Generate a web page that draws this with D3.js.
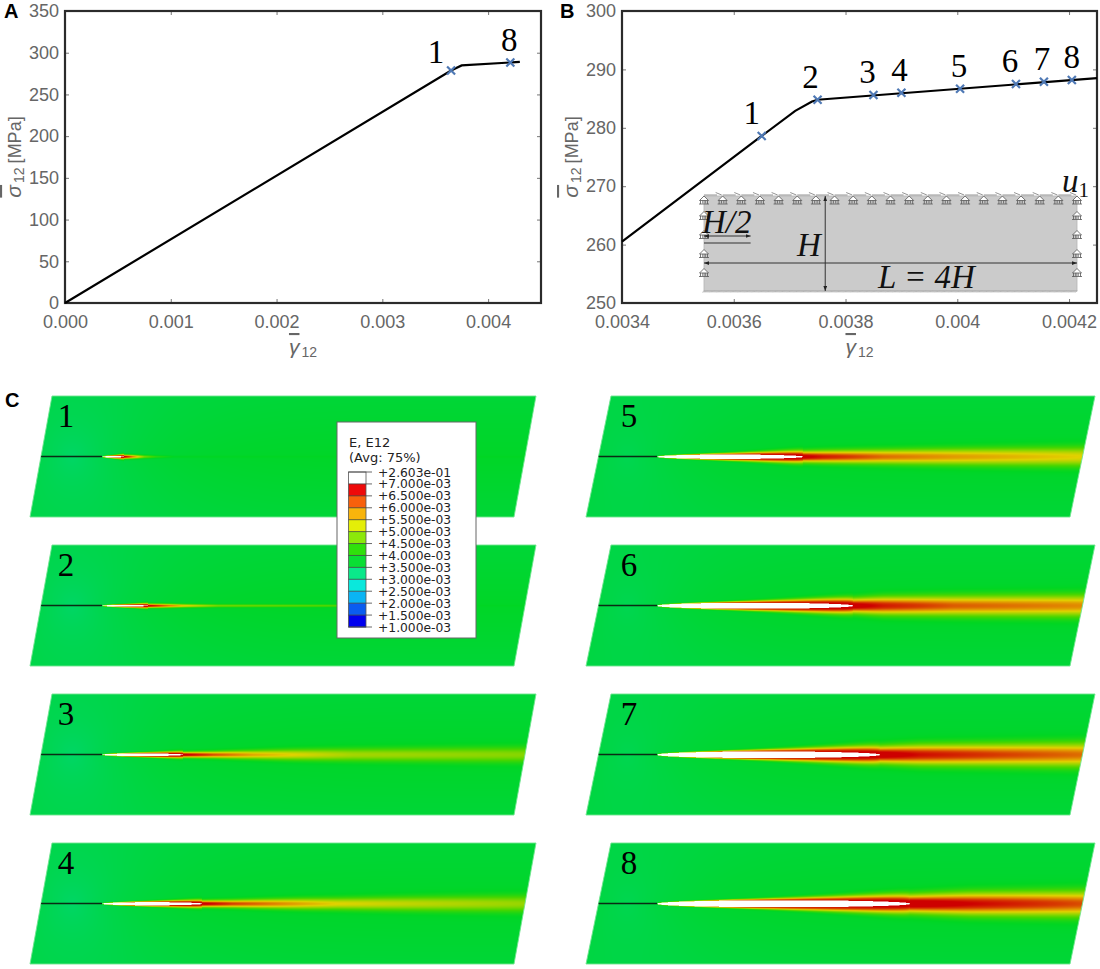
<!DOCTYPE html>
<html lang="en">
<head>
  <meta charset="UTF-8" />
  <title>Shear stress-strain response and E12 fields</title>
  <script src="https://d3js.org/d3.v7.min.js"></script>
  <style>
    body { margin: 0; background: white; }
    svg { display: block; }
    .axis text { font-family: "Liberation Sans", sans-serif; font-size: 18px; fill: #666; }
    .axis path { display: none; }
    .axis line { stroke: #777; stroke-width: 1px; }
    .frame { fill: none; stroke: #2b2b2b; stroke-width: 2.2px; }
    .curve { fill: none; stroke: #000; stroke-width: 2.2px; }
    .cross { stroke: #4f79b5; stroke-width: 2.2px; fill: none; }
    .state { font-family: "Liberation Serif", serif; font-size: 33px; fill: #000; text-anchor: middle; }
    .panel-tag { font-family: "Liberation Sans", sans-serif; font-weight: bold; font-size: 20px; fill: #000; }
    .axis-label { font-family: "Liberation Sans", sans-serif; font-size: 18px; fill: #666; }
    .inset-text { font-family: "Liberation Serif", serif; font-style: italic; font-size: 33px; fill: #111; }
    .legend-text { font-family: "DejaVu Sans", sans-serif; font-size: 12.3px; fill: #222; }
    .legend-head { font-family: "DejaVu Sans", sans-serif; font-size: 13px; fill: #222; }
  </style>
</head>
<body>
  <svg id="chart" width="1100" height="969"></svg>

  <script>
    // overall curve (panel A)
    const curveX = [0, 0.00365, 0.00375, 0.0043];
    const curveY = [0, 278.6, 284.8, 289];
    const ticksAX = [0, 0.001, 0.002, 0.003, 0.004];
    const ticksAY = [0, 50, 100, 150, 200, 250, 300, 350];
    const statesA = ["1", "8"];
    const statesAX = [0.00365, 0.00421];
    const statesAY = [278.6, 288.2];

    // zoomed curve (panel B)
    const zoomX = [0.0034, 0.00365, 0.00371, 0.00374, 0.00375, 0.00425];
    const zoomY = [260.5, 278.6, 282.9, 284.5, 284.8, 288.5];
    const ticksBX = [0.0034, 0.0036, 0.0038, 0.004, 0.0042];
    const ticksBY = [250, 260, 270, 280, 290, 300];
    const statesB = ["1", "2", "3", "4", "5", "6", "7", "8"];
    const statesBX = [0.00365, 0.00375, 0.00385, 0.0039, 0.004005, 0.004105, 0.004155, 0.004205];
    const statesBY = [278.6, 284.8, 285.6, 286, 286.7, 287.5, 287.9, 288.2];

    // field panels (panel C): length of the opening past the notch [px], its half height,
    // and strain read along the band ahead of the tip
    const panelIds = ["1", "2", "3", "4", "5", "6", "7", "8"];
    const openLength = [22, 46, 81, 100, 146, 196, 223, 253];
    const openHalf = [0.7, 0.8, 1.3, 1.6, 2.2, 3, 3.3, 3.5];
    const aheadDist = [
      [0, 8, 20, 32, 50],
      [0, 15, 35, 70, 180, 240, 330],
      [0, 30, 70, 110, 170, 344],
      [0, 30, 100, 135, 200, 325],
      [0, 20, 80, 150, 280],
      [0, 30, 100, 230],
      [0, 40, 120, 200],
      [0, 60, 170]
    ];
    const aheadStrain = [
      [0.0072, 0.0062, 0.0048, 0.0043, 0.0040],
      [0.0072, 0.0064, 0.0056, 0.0048, 0.0046, 0.0042, 0.0040],
      [0.0072, 0.0064, 0.0058, 0.0055, 0.0051, 0.0049],
      [0.0072, 0.0065, 0.0058, 0.0055, 0.0053, 0.0050],
      [0.0072, 0.0068, 0.0062, 0.0059, 0.0055],
      [0.0073, 0.0068, 0.0063, 0.0060],
      [0.0074, 0.0069, 0.0065, 0.0062],
      [0.0075, 0.0070, 0.0064]
    ];
    const aheadSpread = [
      [1.8, 1.8, 1.6, 1.4, 1.2],
      [1.8, 1.8, 1.6, 1.4, 1.2, 1.0, 1.0],
      [2.5, 3, 4, 5, 6, 7.5],
      [3, 3.5, 5, 5.5, 6.5, 8],
      [5, 5.5, 6.5, 7.5, 9],
      [6.5, 8, 9, 10],
      [7.5, 9, 10, 11],
      [8, 10, 11.5]
    ];

    // contour legend
    const legendLabels = ["+2.603e-01", "+7.000e-03", "+6.500e-03", "+6.000e-03", "+5.500e-03",
      "+5.000e-03", "+4.500e-03", "+4.000e-03", "+3.500e-03", "+3.000e-03", "+2.500e-03",
      "+2.000e-03", "+1.500e-03", "+1.000e-03"];
    const legendColors = ["#ffffff", "#ee0a0a", "#f8600c", "#f8b40c", "#e4ee08", "#8ce80a", "#30e00c",
      "#0ade34", "#0ae88a", "#0ae8dc", "#0ab4f4", "#0a5cf0", "#0000ee"];
    const strainStops = [0.003, 0.0035, 0.004, 0.0045, 0.005, 0.0055, 0.006, 0.0065, 0.007];
    const strainColors = ["#00d696", "#00d664", "#00d623", "#46d600", "#96d600", "#e1d200", "#e18c00", "#d73c00", "#cd0000"];

    const svg = d3.select("#chart");
    const defs = svg.append("defs");

    function crossPath(s) {
      return `M${-s},${-s}L${s},${s}M${-s},${s}L${s},${-s}`;
    }

    // overline symbol + subscript 12, optional trailing text
    function axisTitle(sel, sym, tail) {
      const t = sel.append("text").attr("class", "axis-label");
      t.append("tspan").attr("font-style", "italic").attr("text-decoration", "overline").attr("font-size", 21).text(sym);
      t.append("tspan").attr("dy", 3).attr("dx", 2).attr("font-size", 14).text("12");
      if (tail) t.append("tspan").attr("dy", -3).attr("dx", 4).text(tail);
      return t;
    }

    function plot(o) {
      const g = svg.append("g");
      const x = d3.scaleLinear().domain(o.xDomain).range([o.left, o.right]);
      const y = d3.scaleLinear().domain(o.yDomain).range([303, 11]);

      g.append("g").attr("class", "axis").attr("transform", "translate(0,303)")
        .call(d3.axisBottom(x).tickValues(o.xTicks).tickSize(-4).tickPadding(12).tickFormat(o.xFormat));
      g.append("g").attr("class", "axis").attr("transform", `translate(${o.left},0)`)
        .call(d3.axisLeft(y).tickValues(o.yTicks).tickSize(-4).tickPadding(6));
      g.append("g").attr("class", "axis").attr("transform", "translate(0,11)")
        .call(d3.axisTop(x).tickValues(o.xTicks).tickSize(-4).tickFormat(""));
      g.append("g").attr("class", "axis").attr("transform", `translate(${o.right},0)`)
        .call(d3.axisRight(y).tickValues(o.yTicks).tickSize(-4).tickFormat(""));
      g.append("rect").attr("class", "frame")
        .attr("x", o.left).attr("y", 11).attr("width", o.right - o.left).attr("height", 292);

      axisTitle(g.append("g").attr("transform", `translate(${o.left - 44},${157}) rotate(-90)`), "σ", "[MPa]")
        .attr("text-anchor", "middle");
      axisTitle(g.append("g").attr("transform", `translate(${(o.left + o.right) / 2},354)`), "γ")
        .attr("text-anchor", "middle");

      g.append("text").attr("class", "panel-tag").attr("x", o.tagX).attr("y", 18).text(o.tag);
      return { g, x, y };
    }

    // panel A
    const a = plot({
      tag: "A", tagX: 4, left: 65, right: 541, xDomain: [0, 0.0045], yDomain: [0, 350],
      xTicks: ticksAX, yTicks: ticksAY, xFormat: d3.format(".3f")
    });
    a.g.append("path").attr("class", "curve")
      .attr("d", d3.line().x((d, i) => a.x(curveX[i])).y((d, i) => a.y(curveY[i]))(curveX));
    a.g.selectAll(".cross").data(statesA).join("path").attr("class", "cross")
      .attr("transform", (d, i) => `translate(${a.x(statesAX[i])},${a.y(statesAY[i])})`)
      .attr("d", crossPath(4));
    const nudgeA = [-15, -1];
    a.g.selectAll(".state").data(statesA).join("text").attr("class", "state")
      .attr("x", (d, i) => a.x(statesAX[i]) + nudgeA[i])
      .attr("y", (d, i) => a.y(statesAY[i]) - (i ? 12 : 8))
      .text(d => d);

    // panel B
    const b = plot({
      tag: "B", tagX: 560, left: 622, right: 1097, xDomain: [0.0034, 0.00425], yDomain: [250, 300],
      xTicks: ticksBX, yTicks: ticksBY, xFormat: d => String(+d.toFixed(4))
    });

    // inset sketch of the specimen sits under the curve
    const inset = b.g.append("g");
    const insetX = d3.scaleLinear().domain([0, 4]).range([704, 1077]);
    const insetY = d3.scaleLinear().domain([0, 1]).range([291, 196]);
    inset.append("rect").attr("x", insetX(0)).attr("y", insetY(1))
      .attr("width", insetX(4) - insetX(0)).attr("height", insetY(0) - insetY(1))
      .attr("fill", "#cbcbcb").attr("stroke", "#b5b5b5").attr("stroke-width", 0.8);
    // bottom hatch
    inset.selectAll(".hatch").data(d3.range(0, 4.001, 0.0125)).join("line")
      .attr("x1", d => insetX(d) - 1.5).attr("x2", d => insetX(d))
      .attr("y1", insetY(0) + 1.5).attr("y2", insetY(0) - 0.5)
      .attr("stroke", "#8a8a8a").attr("stroke-width", 0.5);
    // sliding supports along the top and on both sides
    const roller = "M-5,4L5,4M-4.5,0.5L0,-4L4.5,0.5ZM-3.5,0.5L-3.5,4M3.5,0.5L3.5,4M-1.2,0.5V3.5M1.2,0.5V3.5";
    const topRollers = d3.range(0, 4.001, 0.2).map(d => [insetX(d), insetY(1) + 4]);
    const sideRollers = [0, 4].flatMap(s => [0.2, 0.4, 0.6, 0.8].map(h => [insetX(s), insetY(h) + 0.5]));
    inset.selectAll(".roller").data(topRollers.concat(sideRollers)).join("path")
      .attr("transform", d => `translate(${d[0]},${d[1]})`)
      .attr("d", roller).attr("fill", "white").attr("stroke", "#555").attr("stroke-width", 0.8);
    // loaded edge
    inset.selectAll(".slide").data(d3.range(0, 3.9, 0.2)).join("path")
      .attr("d", d => `M${insetX(d)},${insetY(1) - 1}H${insetX(d + 0.14)}M${insetX(d + 0.125)},${insetY(1) - 3.5}L${insetX(d + 0.19)},${insetY(1) - 1}`)
      .attr("fill", "none").attr("stroke", "#888").attr("stroke-width", 0.9);
    // dimensions
    defs.append("marker").attr("id", "tip").attr("viewBox", "0 0 8 6").attr("refX", 8).attr("refY", 3)
      .attr("markerWidth", 5).attr("markerHeight", 4).attr("orient", "auto-start-reverse")
      .append("path").attr("d", "M0,0L8,3L0,6Z").attr("fill", "#222");
    const dim = (x1, y1, x2, y2, both) => inset.append("line")
      .attr("x1", x1).attr("y1", y1).attr("x2", x2).attr("y2", y2)
      .attr("stroke", "#333").attr("stroke-width", 1)
      .attr("marker-end", "url(#tip)").attr("marker-start", both ? "url(#tip)" : null);
    dim(insetX(1.3), insetY(1), insetX(1.3), insetY(0), true);
    dim(insetX(0), 263, insetX(4), 263, true);
    dim(insetX(0), 236, insetX(0.5), 236, true);
    inset.append("line").attr("x1", insetX(0)).attr("x2", insetX(0.5)).attr("y1", 243).attr("y2", 243)
      .attr("stroke", "#333").attr("stroke-width", 1.2);
    inset.append("text").attr("class", "inset-text").attr("x", 702).attr("y", 233).text("H/2");
    inset.append("text").attr("class", "inset-text").attr("x", 797).attr("y", 256).text("H");
    inset.append("text").attr("class", "inset-text").attr("x", 878).attr("y", 288).text("L = 4H");
    const u1 = inset.append("text").attr("class", "inset-text").attr("x", 1062).attr("y", 192);
    u1.append("tspan").text("u");
    u1.append("tspan").attr("font-style", "normal").attr("font-size", 21).attr("dy", 5).text("1");

    b.g.append("path").attr("class", "curve")
      .attr("d", d3.line().x((d, i) => b.x(zoomX[i])).y((d, i) => b.y(zoomY[i]))(zoomX));
    b.g.selectAll(".cross").data(statesB).join("path").attr("class", "cross")
      .attr("transform", (d, i) => `translate(${b.x(statesBX[i])},${b.y(statesBY[i])})`)
      .attr("d", crossPath(4));
    const nudgeB = [-10, -7, -6, -2, -1, -6, -2, 0];
    b.g.selectAll(".state").data(statesB).join("text").attr("class", "state")
      .attr("x", (d, i) => b.x(statesBX[i]) + nudgeB[i])
      .attr("y", (d, i) => b.y(statesBY[i]) - 12)
      .text(d => d);

    // panel C: strain fields, painted from the readings above
    svg.append("text").attr("class", "panel-tag").attr("x", 5).attr("y", 407).text("C");

    const strainColor = d3.scaleLinear().domain(strainStops).range(strainColors).clamp(true);
    const lutMin = 0.0028, lutMax = 0.0078, lutSize = 1024;
    const lut = d3.range(lutSize).map(i => d3.rgb(strainColor(lutMin + (lutMax - lutMin) * i / (lutSize - 1))));

    const panelW = 510, panelH = 121, superS = 2;
    const rowTop = [396, 545, 694, 843];
    const lensPeak = d3.scaleLinear().domain([0, 0.3, 1]).range([0.0047, 0.0063, 0.0072]);

    function paintField(i, notchX, coolAmount) {
      const W = panelW * superS, H = panelH * superS;
      const canvas = document.createElement("canvas");
      canvas.width = W; canvas.height = H;
      const ctx = canvas.getContext("2d");
      const img = ctx.createImageData(W, H);
      const peak = d3.scaleLinear().domain(aheadDist[i]).range(aheadStrain[i]).clamp(true);
      const spread = d3.scaleLinear().domain(aheadDist[i]).range(aheadSpread[i]).clamp(true);
      const L = openLength[i];
      const cy = 60.5;
      for (let px = 0; px < W; px++) {
        const x = px / superS;
        const t = (x - notchX) / L;
        let half = 0, pk = 0.0039, sg = 1;
        if (t > 0 && t < 1) {
          half = openHalf[i] * Math.pow(Math.sin(Math.PI * t), 0.42);
          pk = lensPeak(t);
          sg = 0.6 + 0.92 * aheadSpread[i][0] * t * t;
        } else if (t >= 1) {
          pk = peak(x - notchX - L);
          sg = spread(x - notchX - L);
        }
        for (let py = 0; py < H; py++) {
          const y = py / superS - cy;
          const ay = Math.abs(y);
          const k = (py * W + px) * 4;
          if (ay < half) {
            img.data[k] = img.data[k + 1] = img.data[k + 2] = 255; img.data[k + 3] = 255;
            continue;
          }
          const dy = ay - half;
          const rx = (x - notchX + 30) / 62, ry = y / 60;
          const base = 0.00397 - 0.00012 * (ay / 60) - coolAmount * Math.exp(-Math.sqrt(rx * rx + ry * ry));
          let v = base;
          if (t > 0) v = base + Math.max(0, pk - base) * Math.exp(-(dy * dy) / (sg * sg));
          const c = lut[Math.max(0, Math.min(lutSize - 1, Math.round((v - lutMin) / (lutMax - lutMin) * (lutSize - 1))))];
          img.data[k] = c.r; img.data[k + 1] = c.g; img.data[k + 2] = c.b; img.data[k + 3] = 255;
        }
      }
      ctx.putImageData(img, 0, 0);
      return canvas.toDataURL();
    }

    panelIds.forEach((id, i) => {
      const col = i < 4 ? 0 : 1;
      const top = rowTop[i % 4];
      const bottomLeft = col ? 586 : 30;
      const shear = 22 + col * 3;
      const width = 484;
      const notchEnd = col ? 657 : 102;
      const notchStart = bottomLeft + shear * (61 / 121);
      const corners = [[bottomLeft + shear, top], [bottomLeft + shear + width, top],
        [bottomLeft + width, top + panelH], [bottomLeft, top + panelH]];
      const pts = corners.map(p => p.join(",")).join(" ");

      defs.append("clipPath").attr("id", `clip${i}`).append("polygon").attr("points", pts);
      const g = svg.append("g");
      g.append("image")
        .attr("x", bottomLeft).attr("y", top).attr("width", panelW).attr("height", panelH)
        .attr("preserveAspectRatio", "none")
        .attr("clip-path", `url(#clip${i})`)
        .attr("href", paintField(i, notchEnd - bottomLeft, i < 4 ? 0.00048 : 0.00032));
      g.append("polygon").attr("points", pts).attr("fill", "none")
        .attr("stroke", "#6fe58f").attr("stroke-width", 0.9);
      g.append("line").attr("x1", notchStart).attr("x2", notchEnd)
        .attr("y1", top + 60.5).attr("y2", top + 60.5)
        .attr("stroke", "#0b2a14").attr("stroke-width", 1.3);
      g.append("text").attr("class", "state")
        .attr("x", col ? 629 : 66).attr("y", top + 31).text(id);
    });

    // contour legend, over panels 1 and 2
    const lg = svg.append("g");
    lg.append("rect").attr("x", 337).attr("y", 422).attr("width", 139).attr("height", 216)
      .attr("fill", "white").attr("stroke", "#666").attr("stroke-width", 1);
    lg.append("text").attr("class", "legend-head").attr("x", 349).attr("y", 447).text("E, E12");
    lg.append("text").attr("class", "legend-head").attr("x", 349).attr("y", 462).text("(Avg: 75%)");
    const legendY = d3.scaleBand().domain(d3.range(legendColors.length)).range([472, 627]);
    lg.selectAll(".cell").data(legendColors).join("rect")
      .attr("x", 348.5).attr("width", 17.5)
      .attr("y", (d, i) => legendY(i)).attr("height", legendY.bandwidth() + 0.3)
      .attr("fill", d => d);
    lg.append("rect").attr("x", 348.5).attr("y", 472).attr("width", 17.5).attr("height", 155)
      .attr("fill", "none").attr("stroke", "#555").attr("stroke-width", 0.8);
    lg.selectAll(".mark").data(legendLabels).join("line")
      .attr("x1", 348.5).attr("x2", 372)
      .attr("y1", (d, i) => 472 + i * legendY.step()).attr("y2", (d, i) => 472 + i * legendY.step())
      .attr("stroke", "#444").attr("stroke-width", 0.8);
    lg.selectAll(".label").data(legendLabels).join("text").attr("class", "legend-text")
      .attr("x", 378).attr("y", (d, i) => 476.5 + i * legendY.step())
      .text(d => d);
  </script>
</body>
</html>
